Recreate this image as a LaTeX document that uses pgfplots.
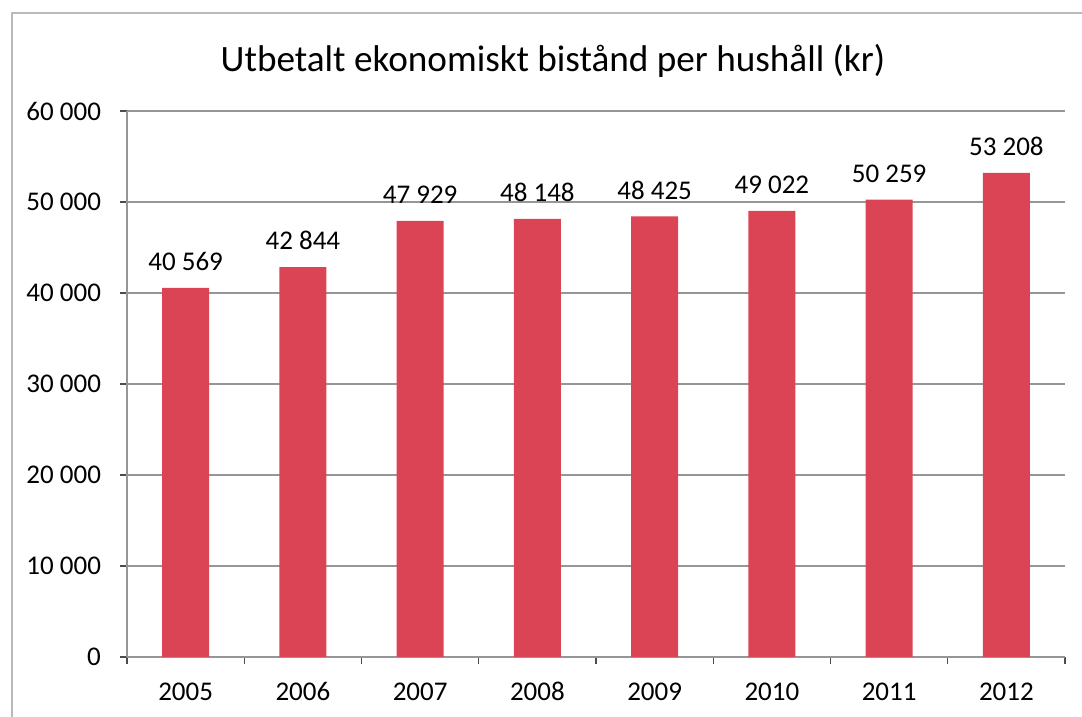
\documentclass[border=0pt]{standalone}
\usepackage{pgfplots}
\pgfplotsset{compat=1.18}
\usepackage{fontspec}
\setmainfont{Carlito}
\definecolor{barred}{RGB}{218,68,84}
\definecolor{gridgrey}{RGB}{150,150,150}
\definecolor{framegrey}{RGB}{185,185,185}
\begin{document}
\begin{tikzpicture}
\useasboundingbox (0,0) rectangle (541pt,358.5pt);
% chart frame (left and top edges visible)
\draw[framegrey, line width=1.2pt] (6pt,0) -- (6pt,352pt) -- (541pt,352pt);
\node[anchor=base, font=\fontsize{18.6}{20}\selectfont] at (276.5pt,322.5pt)
  {Utbetalt ekonomiskt bistånd per hushåll (kr)};
\begin{axis}[
  at={(63.5pt,30pt)}, anchor=south west,
  scale only axis, width=469pt, height=273pt,
  ybar, bar width=23.5pt, bar shift=0pt,
  xmin=-0.5, xmax=7.5, ymin=0, ymax=60000,
  ytick={0,10000,...,60000}, scaled y ticks=false,
  xtick={-0.5,0.5,...,7.5}, xticklabels={},
  extra x ticks={0,1,...,7},
  extra x tick labels={2005,2006,2007,2008,2009,2010,2011,2012},
  extra x tick style={major tick length=0pt},
  axis lines*=left,
  axis line style={gridgrey, line width=0.6pt},
  tick style={black!70, line width=0.6pt},
  major tick length=3.5pt, tick align=outside,
  ymajorgrids, grid style={gridgrey, line width=0.8pt},
  tick label style={font=\fontsize{13.5}{15}\selectfont},
  yticklabel style={xshift=-6pt},
  xticklabel style={anchor=base, yshift=-22pt},
  /pgf/number format/.cd, 1000 sep={\ }, assume math mode=true,
  /pgfplots/.cd,
  nodes near coords,
  nodes near coords style={font=\fontsize{13.5}{15}\selectfont, yshift=5pt,
    /pgf/number format/1000 sep={\ }, /pgf/number format/assume math mode=true},
]
\addplot[fill=barred, draw=none] coordinates {
  (0,40569) (1,42844) (2,47929) (3,48148) (4,48425) (5,49022) (6,50259) (7,53208)};
\end{axis}
\end{tikzpicture}
\end{document}
